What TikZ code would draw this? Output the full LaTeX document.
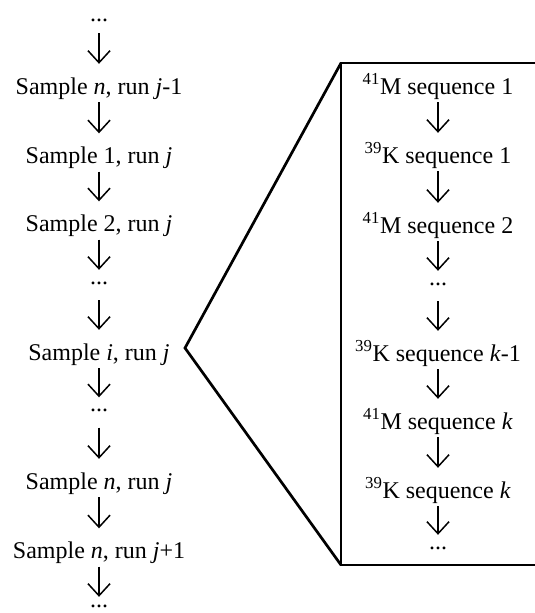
\documentclass[tikz,border=0pt]{standalone}
\usepackage{fontspec}
\setmainfont{Liberation Serif}
\usetikzlibrary{arrows.meta}
\begin{document}
\begin{tikzpicture}[x=1pt,y=-1pt,
  lbl/.style={inner sep=0pt, anchor=base, text height=30pt, text depth=8pt, font=\fontsize{24}{28}\selectfont},
  dotrow/.style={inner sep=0pt, anchor=base, text height=14pt, text depth=16pt, font=\fontsize{24}{28}\selectfont},
  arr/.style={line width=1.5pt, -{Straight Barb[length=12pt,width=22pt]}},
  boxline/.style={line width=2.7pt, line join=miter}]
\useasboundingbox (0,0) rectangle (535,613);
% left column
\node[dotrow, text depth=12pt] (l0) at (99,21) {...};
\node[lbl] (l1) at (99,94) {Sample \textit{n}, run \textit{j}-1};
\node[lbl] (l2) at (99,163.5) {Sample 1, run \textit{j}};
\node[lbl] (l3) at (99,231.5) {Sample 2, run \textit{j}};
\node[dotrow] (l4) at (99,284) {...};
\node[lbl] (l5) at (99,360) {Sample \textit{i}, run \textit{j}};
\node[dotrow] (l6) at (99,411.5) {...};
\node[lbl] (l7) at (99,489) {Sample \textit{n}, run \textit{j}};
\node[lbl] (l8) at (99,558.5) {Sample \textit{n}, run \textit{j}+1};
\node[dotrow, text height=10pt, text depth=4pt] (l9) at (99,607) {...};
\foreach \a/\b in {l0/l1,l1/l2,l2/l3,l3/l4,l4/l5,l5/l6,l6/l7,l7/l8,l8/l9}
  \draw[arr] (\a) -- (\b);
% right column
\node[lbl] (r1) at (438,94) {\textsuperscript{41}M sequence 1};
\node[lbl] (r2) at (438,163) {\textsuperscript{39}K sequence 1};
\node[lbl] (r3) at (438,233) {\textsuperscript{41}M sequence 2};
\node[dotrow] (r4) at (438,285) {...};
\node[lbl] (r5) at (438,361) {\textsuperscript{39}K sequence \textit{k}-1};
\node[lbl] (r6) at (438,429) {\textsuperscript{41}M sequence \textit{k}};
\node[lbl] (r7) at (438,498) {\textsuperscript{39}K sequence \textit{k}};
\node[dotrow] (r8) at (438,549) {...};
\foreach \a/\b in {r1/r2,r2/r3,r3/r4,r4/r5,r5/r6,r6/r7,r7/r8}
  \draw[arr] (\a) -- (\b);
% zoom frame
\coordinate (apex) at (185,348);
\coordinate (tl) at (341,63);
\coordinate (bl) at (341,565);
\coordinate (tr) at (535,63);
\coordinate (br) at (535,565);
\draw[boxline] (tr) -- (tl) -- (bl) -- (br);
\draw[boxline] (tl) -- (apex) -- (bl);
\end{tikzpicture}
\end{document}
